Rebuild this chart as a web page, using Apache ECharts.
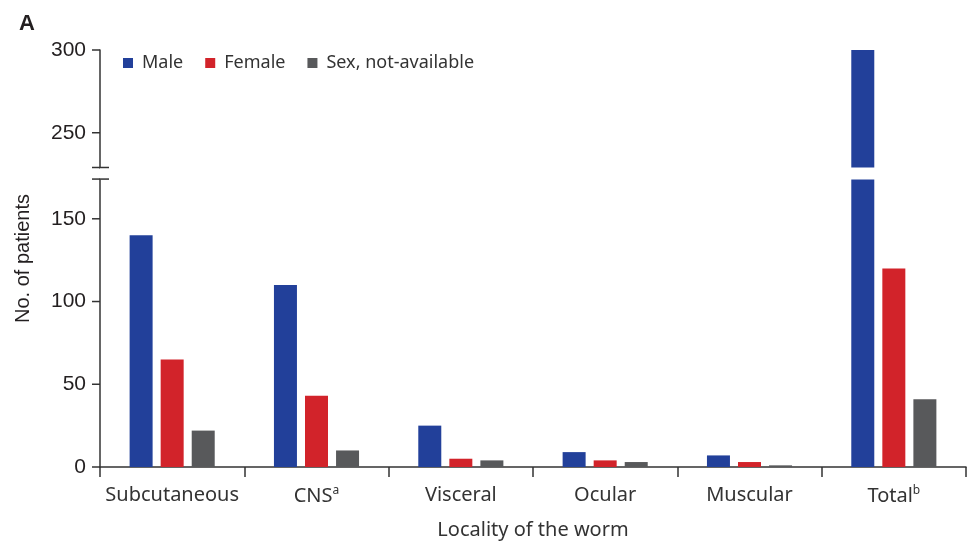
<!DOCTYPE html>
<html>
<head>
<meta charset="utf-8">
<script src="https://cdn.jsdelivr.net/npm/echarts@6/dist/echarts.min.js"></script>
<style>
  html, body { margin: 0; padding: 0; background: #fff; }
  #chart { width: 971px; height: 542px; }
</style>
</head>
<body>
<div id="chart"></div>
<script>
// data
const categories = ["Subcutaneous", "CNS", "Visceral", "Ocular", "Muscular", "Total"];
const superscripts = ["", "a", "", "", "", "b"];
const maleData = [140, 110, 25, 9, 7, 300];
const femaleData = [65, 43, 5, 4, 3, 120];
const naData = [22, 10, 4, 3, 1, 41];
const yTicks = [0, 50, 100, 150, 250, 300];
const breakStart = 174;
const breakEnd = 229;

const chart = echarts.init(document.getElementById("chart"));

const barStyle = {
  type: "bar",
  barWidth: 23,
  barGap: "35%"
};

chart.setOption({
  animation: false,
  color: ["#22409A", "#D2232A", "#58595B"],
  title: {
    text: "A",
    left: 14,
    top: 8,
    textStyle: { fontFamily: "Liberation Sans", fontWeight: "bold", fontSize: 22, color: "#231F20" }
  },
  legend: {
    left: 118,
    top: 49,
    itemWidth: 10,
    itemHeight: 10,
    itemGap: 22,
    icon: "rect",
    textStyle: { fontFamily: "Noto Sans", fontSize: 18, color: "#333", padding: [0, 0, 0, 4] }
  },
  grid: {
    left: 100,
    right: 5,
    top: 50,
    bottom: 75,
    outerBoundsMode: "none"
  },
  xAxis: {
    type: "category",
    data: categories,
    name: "Locality of the worm",
    nameLocation: "middle",
    nameGap: 53,
    nameTextStyle: { fontFamily: "Noto Sans", fontSize: 20, color: "#333" },
    axisLine: { lineStyle: { color: "#333", width: 1.5 } },
    axisTick: { show: true, length: 10, interval: 0, lineStyle: { color: "#333", width: 1.5 } },
    axisLabel: {
      interval: 0,
      margin: 18,
      formatter: function (val) {
        const sup = superscripts[categories.indexOf(val)];
        return sup ? "{n|" + val + "}{s|" + sup + "}" : "{n|" + val + "}";
      },
      rich: {
        n: { fontFamily: "Noto Sans", fontSize: 20, color: "#333" },
        s: { fontFamily: "Noto Sans", fontSize: 12, color: "#333", verticalAlign: "top", padding: [0, 0, 10, 0] }
      }
    }
  },
  yAxis: {
    type: "value",
    min: 0,
    max: 300,
    interval: 50,
    name: "No. of patients",
    nameLocation: "middle",
    nameGap: 67,
    nameTextStyle: { fontFamily: "Liberation Sans", fontSize: 20, color: "#231F20" },
    breaks: [{ start: breakStart, end: breakEnd, gap: 7 }],
    breakArea: {
      show: true,
      zigzagAmplitude: 0,
      itemStyle: { color: "#fff", borderColor: "#fff", borderWidth: 0, opacity: 1 }
    },
    splitLine: { show: false },
    axisLine: { show: true, lineStyle: { color: "#333", width: 1.5 } },
    axisTick: { show: false },
    axisLabel: {
      margin: 14,
      customValues: yTicks,
      fontFamily: "Liberation Sans",
      fontSize: 21,
      color: "#231F20"
    }
  },
  series: [
    Object.assign({ name: "Male", data: maleData }, barStyle),
    Object.assign({ name: "Female", data: femaleData }, barStyle),
    Object.assign({ name: "Sex, not-available", data: naData }, barStyle)
  ]
});

// y ticks (outward) and the short marks across the axis at both edges of the break
const axisX = chart.convertToPixel({ xAxisIndex: 0 }, 0) - (chart.convertToPixel({ xAxisIndex: 0 }, 1) - chart.convertToPixel({ xAxisIndex: 0 }, 0)) / 2;
const marks = yTicks.map(function (v) {
  const y = chart.convertToPixel({ yAxisIndex: 0 }, v);
  return { type: "line", z: 100, shape: { x1: axisX - 8, y1: y, x2: axisX, y2: y }, style: { stroke: "#333", lineWidth: 1.5 } };
});
[breakStart, breakEnd].forEach(function (v) {
  const y = chart.convertToPixel({ yAxisIndex: 0 }, v);
  marks.push({ type: "line", z: 100, shape: { x1: axisX - 8, y1: y, x2: axisX + 9, y2: y }, style: { stroke: "#333", lineWidth: 1.5 } });
});
chart.setOption({ graphic: marks });
</script>
</body>
</html>
